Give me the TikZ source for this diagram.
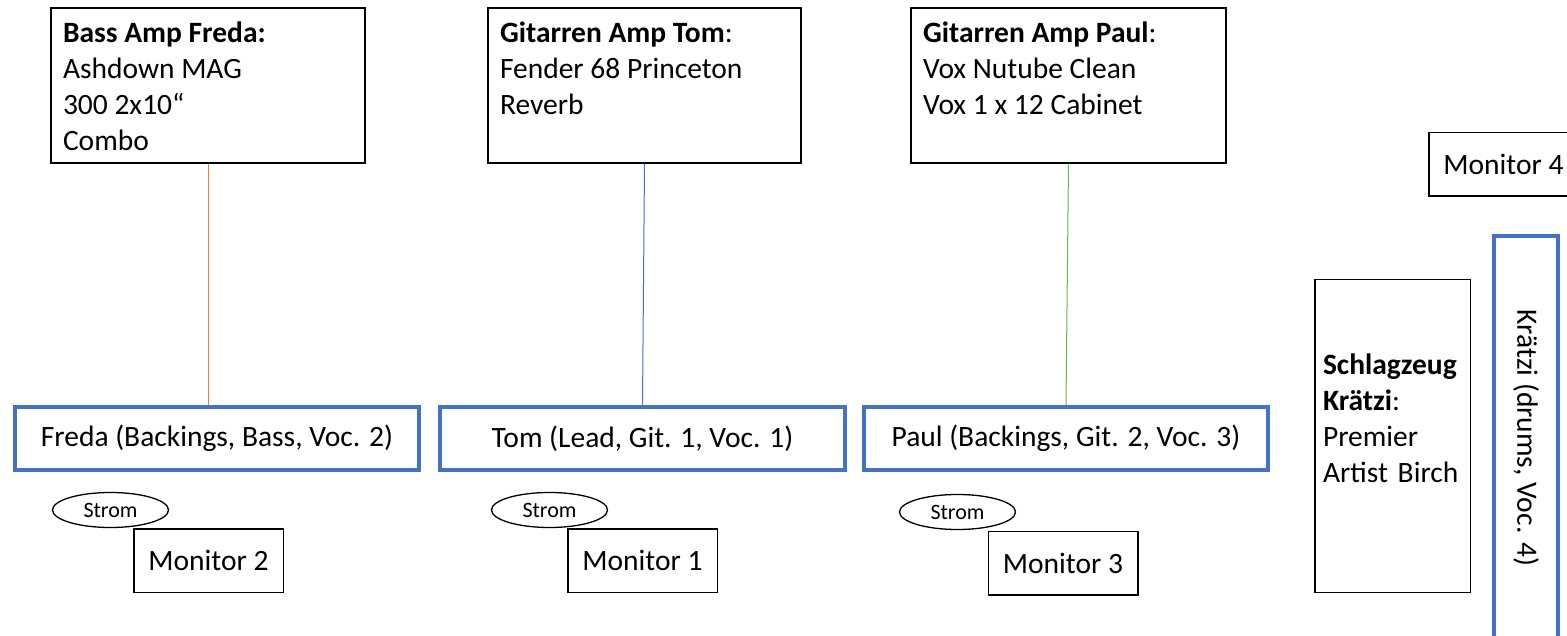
\documentclass[tikz,border=0pt]{standalone}
\usepackage{fontspec}
\setmainfont{Carlito}
\usetikzlibrary{shapes.geometric}
\definecolor{accblue}{HTML}{4472C4}
\definecolor{accorange}{HTML}{ED7D31}
\definecolor{accgreen}{HTML}{70AD47}
\begin{document}
\begin{tikzpicture}[x=1pt,y=-1pt,
  txt/.style={font=\fontsize{29.5}{36}\selectfont},
  ampbox/.style={draw=black, line width=1.5pt, inner xsep=12pt, inner ysep=9pt, txt},
  personbox/.style={draw=accblue, line width=4pt, minimum width=404pt, minimum height=63pt, inner sep=0pt, txt},
  monbox/.style={draw=black, line width=1.5pt, minimum width=149.5pt, minimum height=63.5pt, inner sep=0pt, txt},
  stromnode/.style={ellipse, draw=black, line width=1.3pt, minimum width=116pt, minimum height=35pt, inner sep=0pt, font=\fontsize{22}{26}\selectfont},
  cable/.style={line width=1pt}]
\useasboundingbox (0,0) rectangle (1567,636);

% amps
\node[ampbox] (ampF) at (208,85.5) {\parbox[c][137pt][t]{290pt}{\raggedright\strut\textbf{Bass Amp Freda:}\\ Ashdown MAG\\ 300 2x10“\\ Combo}};
\node[ampbox] (ampT) at (644.5,85.5) {\parbox[c][137pt][t]{289pt}{\raggedright\strut\textbf{Gitarren Amp Tom}:\\ Fender 68 Princeton\\ Reverb}};
\node[ampbox] (ampP) at (1068.5,85.5) {\parbox[c][137pt][t]{291pt}{\raggedright\strut\textbf{Gitarren Amp Paul}:\\ Vox Nutube Clean\\ Vox 1 x 12 Cabinet}};

% players
\node[personbox] (freda) at (217,438.5) {Freda (Backings, Bass, Voc. 2)};
\node[personbox, minimum width=405pt] (tom) at (642.5,438.5) {Tom (Lead, Git. 1, Voc. 1)};
\node[personbox] (paul) at (1066,438.5) {Paul (Backings, Git. 2, Voc. 3)};

% monitors
\node[monbox] (mon2) at (208.5,560.5) {Monitor 2};
\node[monbox] (mon1) at (642.5,560.5) {Monitor 1};
\node[monbox] (mon3) at (1063,563) {Monitor 3};
\node[monbox] (mon4) at (1503.5,164.5) {Monitor 4};

% power
\node[stromnode] (strF) at (110.5,510) {Strom};
\node[stromnode] (strT) at (549.5,510) {Strom};
\node[stromnode] (strP) at (957.5,512) {Strom};

% drums
\node[draw=black, line width=1.5pt, minimum width=155.5pt, minimum height=312.5pt, text width=139pt, inner xsep=8pt, inner ysep=0pt, align=left, txt] (drums) at (1392.5,436) {\textbf{Schlagzeug}\\ \textbf{Krätzi}:\\ Premier\\ Artist Birch\\[-12pt] \strut};
\node[draw=accblue, line width=4pt, rotate=-90, minimum width=404pt, minimum height=64pt, inner sep=0pt, txt] (kraetzi) at (1526,438) {Krätzi (drums, Voc. 4)};

% cables
\draw[cable, accorange] (ampF.south) -- (ampF.south |- freda.north);
\draw[cable, accblue] (ampT.south) -- (tom.north);
\draw[cable, accgreen] (ampP.south) -- (paul.north);
\end{tikzpicture}
\end{document}
